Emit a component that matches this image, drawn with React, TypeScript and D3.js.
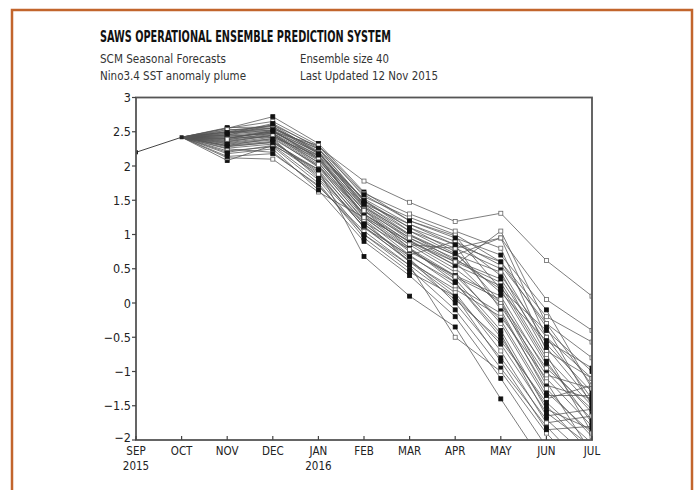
import React from "react";
import * as d3 from "d3";

const months = ["SEP", "OCT", "NOV", "DEC", "JAN", "FEB", "MAR", "APR", "MAY", "JUN", "JUL"];
const yearLabels = ["2015", "", "", "", "2016", "", "", "", "", "", ""];
const yTicks = [3, 2.5, 2, 1.5, 1, 0.5, 0, -0.5, -1, -1.5, -2];

// observed: SEP, OCT
const observed = [2.2, 2.42];

// ensemble members: NOV..JUL (start from OCT observed value)
const members: number[][] = [
  [2.55, 2.72, 2.33, 1.62, 1.2, 0.98, 0.2, -0.9, -1.6],
  [2.45, 2.6, 2.28, 1.78, 1.47, 1.19, 1.31, 0.62, 0.1],
  [2.08, 2.3, 1.95, 0.68, 0.1, -0.35, -1.4, -2.4, -3.0],
  [2.12, 2.1, 1.62, 1.25, 0.9, 0.55, 1.05, -0.3, -1.2],
  [2.5, 2.55, 2.25, 1.5, 1.05, 0.8, 0.5, -0.6, -1.3],
  [2.4, 2.5, 2.2, 1.4, 1.0, 0.7, 0.95, 0.05, -0.4],
  [2.35, 2.45, 2.1, 1.35, 0.8, 0.3, -0.5, -1.5, -2.2],
  [2.3, 2.4, 2.0, 1.2, 0.6, 0.2, -0.2, -1.1, -1.8],
  [2.28, 2.35, 1.9, 1.1, 0.7, 0.9, 0.4, -0.5, -1.4],
  [2.45, 2.5, 2.3, 1.55, 1.25, 1.0, 0.6, -0.2, -0.57],
  [2.2, 2.3, 1.8, 1.0, 0.5, -0.1, -0.95, -1.8, -2.5],
  [2.5, 2.6, 2.2, 1.45, 1.15, 0.85, -0.1, -1.3, -1.9],
  [2.38, 2.48, 2.05, 1.3, 0.9, 0.6, 0.3, -0.8, -1.5],
  [2.42, 2.42, 2.15, 1.25, 0.75, 0.4, 0.1, -1.0, -1.7],
  [2.55, 2.65, 2.3, 1.6, 1.3, 1.05, 0.8, -0.7, -1.1],
  [2.25, 2.2, 1.7, 1.05, 0.55, -0.5, -1.0, -1.9, -2.6],
  [2.32, 2.38, 1.85, 1.15, 0.65, 0.0, -0.8, -1.7, -2.3],
  [2.48, 2.55, 2.25, 1.48, 1.1, 0.75, 0.0, -1.2, -1.4],
  [2.36, 2.44, 2.0, 1.3, 0.85, 0.45, -0.3, -1.4, -1.2],
  [2.4, 2.52, 2.12, 1.4, 0.95, 0.65, 0.2, -0.4, -1.0],
  [2.22, 2.28, 1.75, 0.95, 0.45, 0.1, -0.6, -1.6, -2.1],
  [2.52, 2.58, 2.18, 1.52, 1.15, 0.9, 0.55, -0.3, -0.8],
  [2.3, 2.36, 1.92, 1.18, 0.78, 0.35, -0.4, -1.55, -1.85],
  [2.44, 2.47, 2.08, 1.35, 0.88, 0.5, 0.0, -0.95, -1.55],
  [2.18, 2.25, 1.65, 0.9, 0.4, -0.2, -1.1, -2.1, -2.7],
  [2.47, 2.62, 2.26, 1.58, 1.2, 0.95, 0.7, -0.1, -1.25],
  [2.34, 2.42, 1.98, 1.22, 0.7, 0.25, -0.15, -1.25, -1.95],
  [2.56, 2.57, 2.22, 1.45, 1.0, 0.62, 0.35, -0.65, -1.45],
  [2.26, 2.32, 1.88, 1.1, 0.62, 0.15, -0.7, -1.75, -1.65],
  [2.41, 2.5, 2.15, 1.38, 0.92, 0.55, 0.25, -0.85, -1.75],
  [2.5, 2.52, 2.1, 1.3, 0.85, 0.8, 0.95, -0.5, -1.1],
  [2.14, 2.18, 1.72, 1.0, 0.55, 0.05, -0.55, -1.45, -2.05],
  [2.37, 2.45, 2.05, 1.28, 0.8, 0.4, -0.25, -1.35, -1.35],
  [2.53, 2.55, 2.2, 1.42, 0.98, 0.7, 0.45, -0.75, -1.9],
  [2.29, 2.34, 1.95, 1.15, 0.68, 0.3, -0.45, -1.65, -1.55],
  [2.43, 2.48, 2.12, 1.35, 0.95, 0.6, -0.05, -1.05, -1.25],
  [2.46, 2.53, 2.18, 1.5, 1.1, 0.85, 0.6, -0.35, -1.5],
  [2.33, 2.4, 1.82, 1.12, 0.6, 0.1, -0.85, -1.85, -1.8],
  [2.39, 2.46, 2.02, 1.25, 0.78, 0.38, 0.05, -1.15, -2.2],
  [2.49, 2.5, 2.16, 1.44, 1.05, 0.72, 0.15, -0.55, -0.95],
];

const filled = [
  true, false, true, false, true, false, true, false, true, false,
  true, true, false, true, false, false, true, true, false, true,
  true, false, true, false, true, true, false, true, false, true,
  false, true, true, false, true, false, true, true, false, true,
];

const titleText = "SAWS OPERATIONAL ENSEMBLE PREDICTION SYSTEM";
const subLeft = ["SCM Seasonal Forecasts", "Nino3.4 SST anomaly plume"];
const subRight = ["Ensemble size 40", "Last Updated 12 Nov 2015"];

const FONT = "'Liberation Sans Narrow', 'DejaVu Sans Condensed', 'Liberation Sans', sans-serif";

export default function App() {
  const W = 697, H = 490;
  const left = 136, right = 592, top = 97.5, bottom = 440;
  const x = d3.scalePoint<string>().domain(months).range([left, right]);
  const y = d3.scaleLinear().domain([-2, 3]).range([bottom, top]);
  const line = d3.line<[string, number]>().x((d) => x(d[0])!).y((d) => y(d[1]));

  const memberPts = members.map((m) => {
    const pts: [string, number][] = [["OCT", observed[1]]];
    m.forEach((v, i) => pts.push([months[i + 2], v]));
    return pts;
  });
  const obsPts: [string, number][] = observed.map((v, i) => [months[i], v]);

  return (
    <svg width={W} height={H} style={{ position: "absolute", left: 0, top: 0, background: "#fff" }}>
      <defs>
        <clipPath id="plotclip">
          <rect x={left} y={top} width={right - left} height={bottom - top} />
        </clipPath>
      </defs>
      <rect width={W} height={H} fill="#fff" />
      <path d={`M12,495 V10 H692 V495`} fill="none" stroke="#c2652c" strokeWidth={2.5} />

      <text x={100} y={42} fontFamily={FONT} fontWeight="bold" fontSize={16} fill="#111"
        textLength={291} lengthAdjust="spacingAndGlyphs">{titleText}</text>
      <text x={100} y={63} fontFamily={FONT} fontSize={13} fill="#333" textLength={126} lengthAdjust="spacingAndGlyphs">{subLeft[0]}</text>
      <text x={100} y={80} fontFamily={FONT} fontSize={13} fill="#333" textLength={146} lengthAdjust="spacingAndGlyphs">{subLeft[1]}</text>
      <text x={300} y={63} fontFamily={FONT} fontSize={13} fill="#333" textLength={89} lengthAdjust="spacingAndGlyphs">{subRight[0]}</text>
      <text x={300} y={80} fontFamily={FONT} fontSize={13} fill="#333" textLength={138} lengthAdjust="spacingAndGlyphs">{subRight[1]}</text>

      <g clipPath="url(#plotclip)">
        {memberPts.map((pts, i) => (
          <path key={"l" + i} d={line(pts)!} fill="none" stroke="#555" strokeWidth={0.9} strokeOpacity={0.85} />
        ))}
        <path d={line(obsPts)!} fill="none" stroke="#444" strokeWidth={1} />
        {memberPts.map((pts, i) =>
          pts.slice(1).map((p, j) => (
            <rect key={`m${i}-${j}`} x={x(p[0])! - 2} y={y(p[1]) - 2} width={4} height={4}
              fill={filled[i] ? "#111" : "#fff"} stroke={filled[i] ? "#111" : "#666"} strokeWidth={0.8} />
          ))
        )}
        {obsPts.map((p, i) => (
          <rect key={"o" + i} x={x(p[0])! - 2} y={y(p[1]) - 2} width={4} height={4} fill="#222" />
        ))}
      </g>

      <rect x={left} y={top} width={right - left} height={bottom - top} fill="none" stroke="#555" strokeWidth={1.8} />

      {yTicks.map((t) => (
        <g key={"y" + t}>
          <line x1={left - 4} x2={left} y1={y(t)} y2={y(t)} stroke="#444" strokeWidth={1.2} />
          <text x={left - 5} y={y(t) + (t === -2 ? 1.5 : 4.5)} textAnchor="end" fontFamily={FONT} fontSize={12.5} fill="#222">
            {t < 0 ? "\u2212" + Math.abs(t) : String(t)}
          </text>
        </g>
      ))}
      {months.map((m, i) => (
        <g key={"x" + m}>
          <line x1={x(m)!} x2={x(m)!} y1={bottom} y2={bottom - 4} stroke="#444" strokeWidth={1.2} />
          <text x={x(m)!} y={455} textAnchor="middle" fontFamily={FONT} fontSize={11.5} fill="#222">{m}</text>
          {yearLabels[i] && (
            <text x={x(m)!} y={469.5} textAnchor="middle" fontFamily={FONT} fontSize={11.5} fill="#222">{yearLabels[i]}</text>
          )}
        </g>
      ))}
    </svg>
  );
}
